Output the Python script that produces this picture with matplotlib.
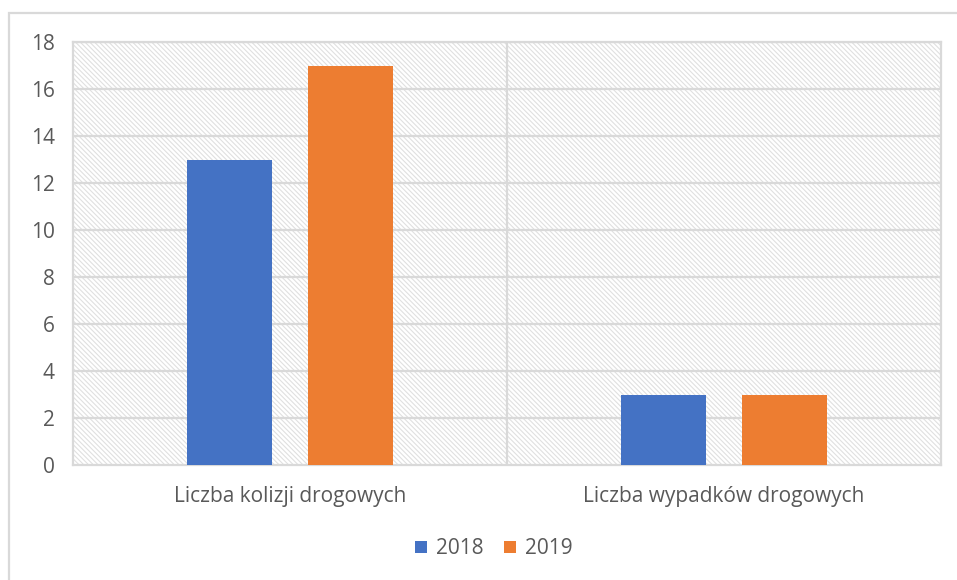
import matplotlib

matplotlib.use("Agg")

import matplotlib.pyplot as plt
import numpy as np
from matplotlib.patches import Rectangle

categories = ["Liczba kolizji drogowych", "Liczba wypadków drogowych"]
series_names = ["2018", "2019"]
values_2018 = [13, 3]
values_2019 = [17, 3]
y_ticks = [0, 2, 4, 6, 8, 10, 12, 14, 16, 18]

BLUE = "#4472C4"
ORANGE = "#ED7D31"
GRID = "#d9d9d9"
TEXT = "#595959"

plt.rcParams["font.family"] = ["Open Sans", "DejaVu Sans"]
plt.rcParams["hatch.color"] = "#e0e0e0"
plt.rcParams["hatch.linewidth"] = 0.8

fig = plt.figure(figsize=(9.57, 5.8), dpi=100)
ax = fig.add_axes([73 / 957, 1 - 465 / 580, (941 - 73) / 957, (465 - 42) / 580])

# outer chart frame (only left and top visible in the crop)
fig.patches.append(Rectangle((8.5 / 957, -0.2), 1.0, 1.2 - 12.5 / 580,
                             transform=fig.transFigure, fill=False,
                             edgecolor=GRID, lw=1.6, zorder=-5))

# hatched plot area
ax.patch.set_facecolor("white")
ax.add_patch(Rectangle((0, 0), 1, 1, transform=ax.transAxes, facecolor="white",
                       hatch="\\" * 7, edgecolor="#e0e0e0", lw=0, zorder=0))

x = np.arange(len(categories))
width = 0.196
offset = 0.139
ax.bar(x - offset, values_2018, width, color=BLUE, label=series_names[0], zorder=3)
ax.bar(x + offset, values_2019, width, color=ORANGE, label=series_names[1], zorder=3)

ax.set_xlim(-0.5, len(categories) - 0.5)
ax.set_ylim(0, 18)
ax.set_yticks(y_ticks)
ax.set_xticks(x)
ax.set_xticklabels(categories)
ax.tick_params(axis="both", length=0, colors=TEXT, labelsize=15)
ax.tick_params(axis="y", pad=13)
ax.tick_params(axis="x", pad=15)

for yv in y_ticks[1:]:
    ax.axhline(yv, color=GRID, lw=1.6, zorder=1)
for xv in np.arange(0.5, len(categories) - 0.5, 1):
    ax.axvline(xv, color=GRID, lw=1.6, zorder=1)
for spine in ax.spines.values():
    spine.set_color(GRID)
    spine.set_linewidth(1.6)
    spine.set_zorder(2)

fig.legend(loc="center", bbox_to_anchor=(494 / 957, 1 - 549 / 580), ncol=2,
           frameon=False, fontsize=15, labelcolor=TEXT, handlelength=0.55,
           handleheight=0.55, handletextpad=0.45, columnspacing=1.0)

fig.savefig("out.png", dpi=100)
plt.close(fig)
